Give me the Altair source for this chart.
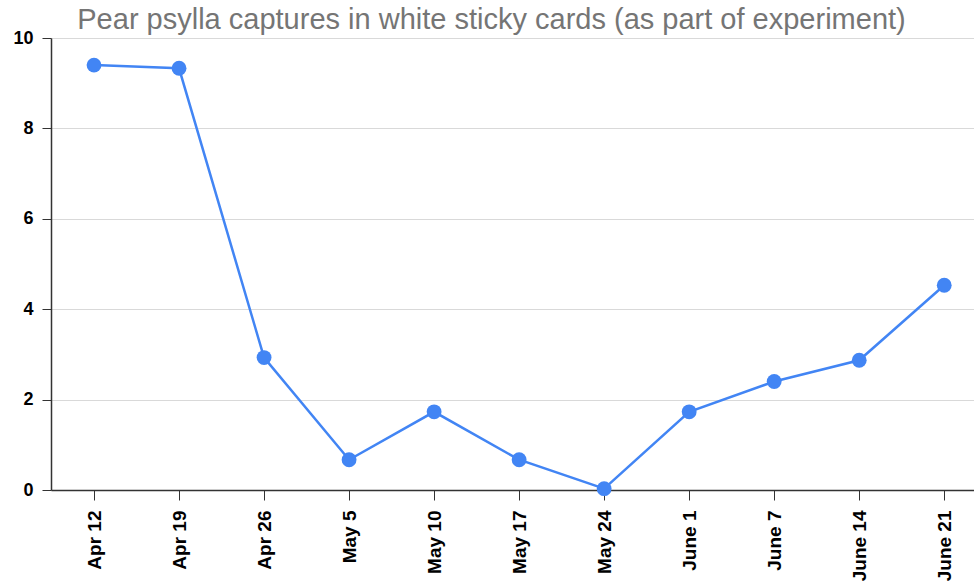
import altair as alt
import pandas as pd

dates = ["Apr 12", "Apr 19", "Apr 26", "May 5", "May 10", "May 17",
         "May 24", "June 1", "June 7", "June 14", "June 21"]
captures = [9.4, 9.33, 2.93, 0.67, 1.73, 0.67, 0.03, 1.73, 2.4, 2.87, 4.53]
y_ticks = [0, 2, 4, 6, 8, 10]

df = pd.DataFrame({"idx": list(range(len(dates))), "date": dates, "captures": captures})

FONT = "Liberation Sans"
BLUE = "#4285F4"

label_expr = "[" + ",".join("'" + d + "'" for d in dates) + "][datum.value]"

x = alt.X("idx:Q", title=None,
          scale=alt.Scale(domain=[-0.506, 10.35], nice=False, zero=False),
          axis=alt.Axis(values=list(range(len(dates))), labelExpr=label_expr,
                        labelAngle=-90, labelFont=FONT, labelFontSize=19,
                        labelFontWeight="bold", labelColor="#000000",
                        labelPadding=10, tickSize=10, tickColor="#333333",
                        domainColor="#333333", domainWidth=1.5, grid=False,
                        labelAlign="right", labelBaseline="middle", labelFlush=False))
y = alt.Y("captures:Q", title=None,
          scale=alt.Scale(domain=[0, 10], nice=False),
          axis=alt.Axis(values=y_ticks, labelFont=FONT, labelFontSize=18,
                        labelFontWeight="bold", labelColor="#000000",
                        labelPadding=9, tickSize=9, tickColor="#333333",
                        domainColor="#333333", domainWidth=1.5,
                        gridColor="#d9d9d9", labelFlush=False))

base = alt.Chart(df).encode(x=x, y=y)
line = base.mark_line(color=BLUE, strokeWidth=2.5)
pts = base.mark_circle(color=BLUE, size=220, opacity=1)

chart = (line + pts).properties(
    width=923, height=452,
    title=alt.TitleParams("Pear psylla captures in white sticky cards (as part of experiment)",
                          font=FONT, fontSize=29, fontWeight="normal",
                          color="#757575", anchor="middle", dx=-21, offset=-6),
    autosize=alt.AutoSizeParams(type="none"),
    padding={"left": 51, "top": 38, "right": 0, "bottom": 96},
).configure_view(stroke=None).configure(background="#ffffff")

chart.save("out.html", embed_options={"renderer": "svg", "actions": False})
